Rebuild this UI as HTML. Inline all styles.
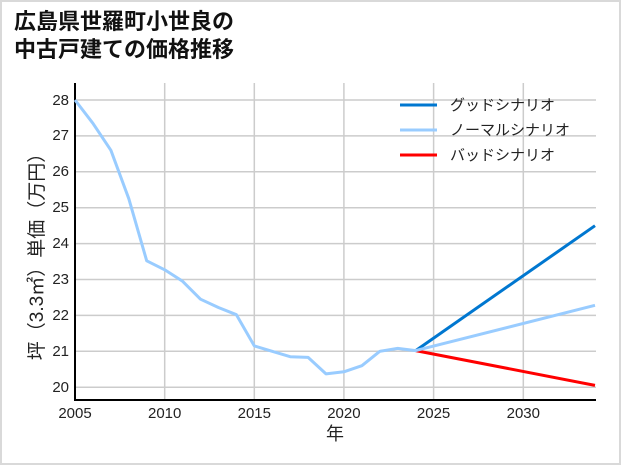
<!DOCTYPE html>
<html><head><meta charset="utf-8"><style>
html,body{margin:0;padding:0;background:#fff;}
svg{display:block;font-family:"Liberation Sans","Noto Sans CJK JP",sans-serif;}
</style></head><body>
<svg width="621" height="465" viewBox="0 0 621 465">
<rect x="1" y="1" width="619" height="463" fill="#fff" stroke="#d9d9d9" stroke-width="2"/>
<text x="14" y="29" font-size="22" font-weight="bold" fill="#111">広島県世羅町小世良の</text>
<text x="14" y="57" font-size="22" font-weight="bold" fill="#111">中古戸建ての価格推移</text>
<g stroke="#cccccc" stroke-width="1.5">
<line x1="164.7" y1="83" x2="164.7" y2="400"/><line x1="254.3" y1="83" x2="254.3" y2="400"/>
<line x1="343.9" y1="83" x2="343.9" y2="400"/><line x1="433.6" y1="83" x2="433.6" y2="400"/>
<line x1="523.3" y1="83" x2="523.3" y2="400"/>
<line x1="75" y1="387.2" x2="596" y2="387.2"/><line x1="75" y1="351.3" x2="596" y2="351.3"/>
<line x1="75" y1="315.4" x2="596" y2="315.4"/><line x1="75" y1="279.5" x2="596" y2="279.5"/>
<line x1="75" y1="243.6" x2="596" y2="243.6"/><line x1="75" y1="207.7" x2="596" y2="207.7"/>
<line x1="75" y1="171.8" x2="596" y2="171.8"/><line x1="75" y1="135.9" x2="596" y2="135.9"/>
<line x1="75" y1="100" x2="596" y2="100"/>
</g>
<g stroke="#000" stroke-width="2"><line x1="75" y1="83" x2="75" y2="400"/><line x1="74" y1="400" x2="596" y2="400"/></g>
<g font-size="15" fill="#222" text-anchor="end">
<text x="69" y="392">20</text><text x="69" y="356">21</text><text x="69" y="320">22</text>
<text x="69" y="284">23</text><text x="69" y="248">24</text><text x="69" y="212">25</text>
<text x="69" y="176">26</text><text x="69" y="140">27</text><text x="69" y="105">28</text>
</g>
<g font-size="15" fill="#222" text-anchor="middle">
<text x="75" y="418">2005</text><text x="164.7" y="418">2010</text><text x="254.3" y="418">2015</text>
<text x="343.9" y="418">2020</text><text x="433.6" y="418">2025</text><text x="523.3" y="418">2030</text>
<text x="335" y="440" font-size="18">年</text>
</g>
<text transform="translate(43,252) rotate(-90)" font-size="19" fill="#222" text-anchor="middle">坪（3.3㎡）単価（万円）</text>
<polyline fill="none" stroke="#0077d0" stroke-width="3" points="415.7,350.6 595,225.7"/>
<polyline fill="none" stroke="#ff0000" stroke-width="3" points="415.7,350.6 595,385.4"/>
<polyline fill="none" stroke="#99ccff" stroke-width="3" stroke-linejoin="round" points="75,100 92.9,123.3 110.9,150.3 128.8,198.7 146.7,260.8 164.7,269.8 182.6,281.3 200.5,299.2 218.4,307.5 236.4,314.7 254.3,345.9 272.2,351.3 290.2,356.7 308.1,357.4 326,373.9 343.9,371.8 361.9,365.7 379.8,351.3 397.7,348.4 415.7,350.6 595,305.3"/>
<line x1="400" y1="105" x2="437" y2="105" stroke="#0077d0" stroke-width="3"/>
<line x1="400" y1="130" x2="437" y2="130" stroke="#99ccff" stroke-width="3"/>
<line x1="400" y1="155" x2="437" y2="155" stroke="#ff0000" stroke-width="3"/>
<g font-size="15" fill="#222">
<text x="450" y="110">グッドシナリオ</text>
<text x="450" y="135">ノーマルシナリオ</text>
<text x="450" y="160">バッドシナリオ</text>
</g>
</svg>
</body></html>
